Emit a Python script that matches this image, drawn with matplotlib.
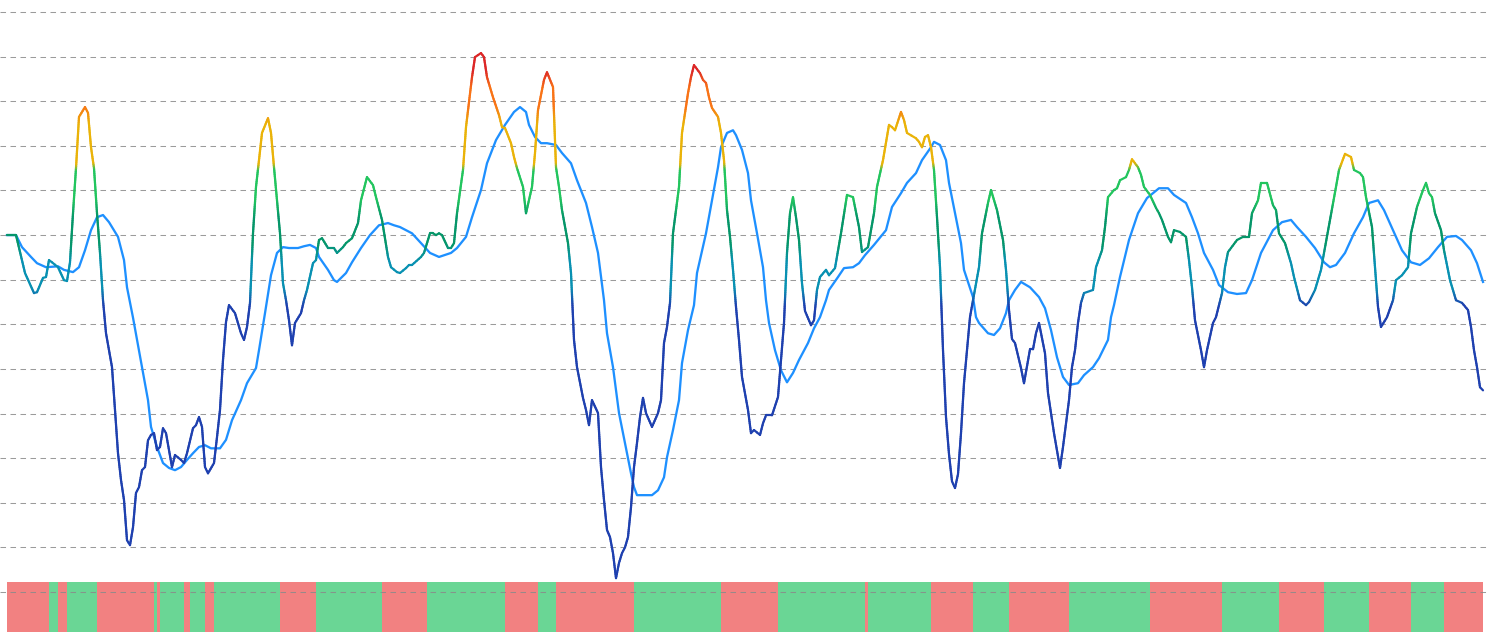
import numpy as np
import matplotlib.pyplot as plt
from matplotlib.collections import LineCollection
from matplotlib.colors import LinearSegmentedColormap, Normalize

# oscillator (colour follows its level)
main_t = [0, 3, 6, 9, 10, 12, 13, 14, 15, 17, 19, 20, 21, 22, 23, 24, 26, 27, 28, 29,
          30, 31, 32, 33, 35, 36, 37, 38, 39, 40, 41, 42, 43, 44, 45, 46, 47, 48, 49, 50,
          51, 52, 53, 54, 55, 56, 58, 59, 60, 62, 63, 64, 65, 66, 67, 69, 70, 71, 72, 73,
          74, 76, 78, 79, 80, 81, 82, 83, 84, 85, 87, 88, 89, 90, 91, 92, 93, 94, 95, 96,
          98, 99, 100, 102, 103, 104, 105, 107, 109, 110, 112, 113, 115, 117, 118, 120, 122, 123, 125, 127,
          128, 130, 131, 133, 134, 135, 138, 139, 141, 142, 143, 144, 145, 147, 148, 149, 150, 152, 153, 155,
          156, 158, 159, 160, 162, 164, 165, 166, 168, 169, 170, 172, 173, 175, 176, 177, 179, 180, 182, 183,
          184, 185, 187, 188, 189, 190, 192, 193, 194, 195, 197, 198, 199, 200, 201, 202, 203, 204, 205, 206,
          207, 208, 209, 210, 211, 212, 213, 215, 217, 218, 219, 220, 221, 222, 224, 225, 227, 228, 229, 231,
          232, 233, 234, 235, 237, 238, 239, 240, 241, 242, 243, 244, 245, 247, 248, 249, 251, 252, 253, 255,
          257, 258, 259, 260, 261, 262, 263, 264, 265, 266, 268, 269, 270, 271, 273, 274, 276, 278, 280, 282,
          284, 285, 287, 289, 290, 292, 294, 295, 296, 298, 299, 300, 303, 304, 305, 306, 307, 308, 309, 310,
          311, 312, 313, 314, 315, 316, 317, 318, 319, 320, 321, 322, 324, 325, 327, 328, 330, 332, 333, 334,
          335, 336, 338, 339, 341, 342, 343, 344, 346, 347, 349, 351, 352, 354, 355, 356, 357, 358, 359, 362,
          363, 365, 366, 367, 369, 370, 371, 373, 374, 375, 377, 378, 379, 381, 383, 384, 385, 387, 388, 389,
          391, 393, 394, 395, 396, 398, 399, 400, 402, 403, 405, 406, 407, 408, 410, 412, 414, 415, 417, 418,
          420, 422, 423, 424, 426, 428, 429, 431, 433, 434, 436, 438, 439, 441, 443, 444, 446, 448, 449, 451,
          452, 453, 455, 456, 457, 458, 460, 462, 463, 465, 467, 468, 470, 472, 473, 474, 475, 476, 478, 479,
          481, 483, 485, 487, 488, 489, 490, 491, 492]
main_v = [0, 0, -8.5, -13.0, -12.8, -9.6, -9.4, -5.6, -6.1, -7.2, -10.1, -10.3, -6.1, 4.9, 15.0, 26.5, 28.7, 27.4, 19.7, 15.0,
          4.9, -4.0, -14.6, -22.0, -29.6, -39.2, -48.9, -54.9, -59.4, -68.4, -69.5, -65.5, -57.8, -56.5, -52.7, -52.0, -46.0, -44.8, -44.4, -48.2,
          -47.5, -43.3, -44.4, -48.2, -52.0, -49.3, -50.4, -51.1, -48.9, -43.3, -42.6, -40.8, -43.0, -52.0, -53.4, -51.1, -45.3, -39.2, -28.0, -19.5,
          -15.7, -17.5, -22.0, -23.5, -20.6, -15.2, 0.4, 10.8, 16.8, 22.9, 26.2, 22.9, 15.2, 7.8, 0.4, -10.8, -14.6, -19.1, -24.7, -19.7,
          -17.5, -14.6, -12.3, -6.3, -5.6, -1.1, -0.7, -2.9, -2.9, -4.0, -2.7, -1.8, -0.7, 2.7, 7.8, 13.0, 11.2, 8.5, 3.4, -4.9,
          -7.2, -8.3, -8.5, -7.4, -6.7, -6.7, -4.9, -4.0, 0.4, 0.4, 0, 0.4, 0, -2.9, -2.9, -1.8, 4.9, 14.6, 24.2, 35.4,
          39.9, 40.8, 39.9, 35.4, 30.9, 26.9, 24.2, 24.0, 20.6, 17.5, 15.0, 10.8, 4.9, 10.8, 18.4, 28.0, 34.8, 36.5, 33.2, 15.2,
          10.8, 5.6, -1.8, -8.5, -23.5, -29.6, -36.5, -39.2, -42.6, -37.0, -39.9, -52.0, -59.4, -66.1, -67.7, -71.3, -76.9, -73.5, -71.3, -70.0,
          -67.7, -61.0, -52.0, -46.6, -40.8, -36.5, -39.9, -43.0, -39.9, -37.0, -24.2, -20.6, -15.2, 0.4, 10.8, 22.9, 31.8, 35.4, 38.1, 36.3,
          34.8, 34.1, 30.9, 28.5, 26.5, 22.9, 16.8, 5.6, -0.4, -7.8, -16.1, -23.5, -31.8, -39.2, -44.4, -43.7, -44.8, -42.2, -40.4, -40.4,
          -36.3, -28.0, -19.7, -4.0, 4.9, 8.5, 4.0, -1.1, -10.8, -17.0, -20.2, -19.1, -12.3, -9.4, -7.8, -9.0, -7.4, 0.4, 9.0, 8.5,
          1.8, -3.8, -2.7, 4.9, 10.8, 16.8, 24.7, 24.2, 23.5, 27.6, 25.8, 22.9, 21.7, 20.9, 19.7, 22.0, 22.4, 19.7, 14.6, 4.0,
          -7.2, -25.8, -40.8, -49.1, -55.2, -56.7, -53.6, -44.4, -33.2, -25.8, -18.4, -14.6, -7.2, 0.4, 7.2, 10.1, 5.6, -1.1, -7.8, -16.8,
          -23.3, -24.2, -29.8, -33.2, -25.6, -25.6, -22.0, -19.7, -26.5, -35.4, -44.4, -52.2, -47.5, -37.0, -29.6, -25.8, -19.7, -15.2, -13.0, -12.3,
          -7.2, -3.4, 1.8, 8.5, 10.1, 10.5, 12.3, 13.0, 14.6, 17.0, 15.2, 13.5, 10.8, 9.0, 6.1, 4.9, 3.4, -0.4, -1.6, 1.1,
          0.7, -0.4, -5.6, -11.7, -19.1, -25.8, -29.6, -25.8, -19.7, -18.4, -13.0, -7.2, -3.8, -2.9, -1.1, -0.4, -0.4, 4.9, 7.8, 11.7,
          11.7, 6.7, 5.6, 0.4, -1.8, -6.3, -9.4, -14.6, -15.7, -15.0, -12.3, -7.8, -4.0, 3.4, 10.8, 14.6, 18.2, 17.5, 14.6, 13.9,
          13.0, 8.5, 1.8, -7.2, -16.1, -20.6, -18.4, -14.6, -10.1, -9.0, -7.2, 0.4, 6.3, 10.1, 11.7, 9.4, 8.5, 4.9, 1.1, -3.4,
          -10.1, -14.6, -15.2, -16.8, -20.6, -25.8, -29.6, -34.1, -34.8]

# smoothed signal line
signal_t = [0, 3, 5, 8, 10, 13, 17, 19, 22, 24, 26, 28, 30, 32, 34, 37, 39, 40, 42, 45,
            47, 48, 50, 52, 54, 56, 58, 60, 62, 64, 66, 68, 71, 73, 75, 78, 80, 83, 84, 86,
            88, 90, 92, 94, 97, 99, 101, 103, 104, 107, 109, 110, 113, 115, 118, 121, 124, 127, 129, 131,
            135, 138, 141, 144, 148, 150, 153, 155, 158, 160, 163, 166, 169, 171, 173, 174, 176, 178, 180, 183,
            185, 188, 190, 193, 195, 197, 199, 200, 202, 204, 206, 208, 209, 210, 213, 215, 217, 219, 220, 222,
            224, 225, 227, 229, 230, 233, 235, 237, 238, 240, 242, 243, 245, 247, 248, 250, 252, 253, 254, 256,
            258, 260, 262, 264, 267, 269, 271, 273, 274, 277, 279, 282, 284, 286, 289, 293, 295, 298, 300, 303,
            305, 308, 309, 311, 313, 314, 316, 318, 319, 322, 323, 324, 327, 329, 331, 333, 334, 336, 338, 341,
            344, 346, 348, 350, 352, 354, 357, 359, 362, 364, 367, 368, 369, 371, 374, 377, 380, 384, 387, 389,
            393, 395, 397, 399, 402, 404, 407, 410, 413, 415, 418, 422, 425, 428, 430, 433, 436, 439, 441, 443,
            446, 449, 452, 454, 457, 459, 462, 465, 468, 471, 474, 477, 480, 483, 485, 488, 490, 492]
signal_v = [0, 0, -2.7, -4.9, -6.3, -7.2, -7.0, -7.8, -8.3, -7.2, -3.4, 1.1, 4.0, 4.5, 2.9, -0.4, -5.6, -11.7, -18.5, -29.6,
            -37.0, -43.0, -47.5, -51.1, -52.2, -52.7, -52.0, -50.4, -48.9, -47.5, -47.1, -47.8, -47.8, -45.9, -41.5, -37.0, -33.2, -29.8, -25.8, -17.5,
            -9.0, -4.0, -2.7, -2.9, -2.9, -2.5, -2.2, -2.9, -4.9, -7.8, -10.1, -10.5, -8.5, -6.1, -2.9, 0, 2.2, 2.7, 2.2, 1.8,
            0.4, -1.8, -4.0, -4.9, -4.0, -2.9, -0.4, 4.0, 10.1, 16.1, 21.3, 24.7, 27.6, 28.7, 27.6, 24.7, 22.0, 20.6, 20.6, 20.2,
            18.4, 16.1, 12.3, 7.2, 1.8, -4.0, -14.6, -22.0, -29.6, -39.9, -46.6, -53.4, -56.5, -58.3, -58.3, -58.3, -57.2, -54.3, -49.8, -43.7,
            -37.0, -28.7, -21.3, -15.7, -8.5, 0.4, 7.8, 15.2, 19.7, 22.9, 23.5, 22.4, 19.1, 13.9, 7.8, 0.4, -7.2, -14.6, -19.7, -25.8,
            -30.3, -33.0, -30.9, -28.0, -24.2, -20.9, -18.4, -14.6, -12.3, -9.4, -7.4, -7.2, -6.3, -4.5, -2.2, 1.1, 6.3, 9.4, 11.7, 13.9,
            16.8, 19.7, 20.9, 20.2, 16.8, 11.7, 4.9, -1.8, -7.8, -13.9, -18.4, -19.7, -22.0, -22.4, -20.9, -17.5, -14.6, -12.3, -10.5, -11.7,
            -13.9, -16.4, -21.3, -27.4, -31.8, -33.6, -33.2, -31.4, -29.6, -27.6, -23.5, -18.4, -15.7, -9.4, -1.1, 4.9, 8.3, 10.5, 10.5, 9.0,
            7.2, 4.0, 0.4, -4.0, -7.8, -11.2, -12.8, -13.2, -13.0, -10.1, -4.0, 1.1, 2.9, 3.4, 1.8, -0.4, -2.9, -6.1, -7.2, -6.7,
            -4.0, 0.4, 4.0, 7.2, 7.8, 5.6, 1.1, -3.4, -6.1, -6.7, -5.2, -2.7, -0.4, -0.2, -1.1, -3.4, -6.3, -10.5]

# bottom strip: bar index where the state flips (starts bearish, then alternates)
flip_t = [0, 14, 17, 20, 30, 49, 50, 51, 59, 61, 66, 69, 91, 103, 125, 140, 166, 177,
          183, 209, 238, 257, 286, 287, 308, 322, 334, 354, 381, 405, 424, 439, 454, 468, 479]
n_bars = 492
grid_levels = list(range(-80, 51, 10))

# level colours of the oscillator
cmap_nodes = [(-16, '#1E40AF'), (-12, '#0891B2'), (-6, '#0891B2'), (-2, '#059669'),
              (4, '#059669'), (8, '#22C55E'), (14.5, '#22C55E'), (16, '#EAB308'),
              (25, '#EAB308'), (29, '#F97316'), (33, '#F97316'), (37, '#DC2626')]
lo, hi = cmap_nodes[0][0], cmap_nodes[-1][0]
cmap = LinearSegmentedColormap.from_list(
    'osc', [((v - lo) / (hi - lo), c) for v, c in cmap_nodes])
norm = Normalize(lo, hi)


def gradient_line(ax, x, y, lw):
    # split each straight segment into short pieces only to shade it by level
    px, py = [x[0]], [y[0]]
    for i in range(len(x) - 1):
        k = max(1, int(abs(y[i + 1] - y[i]) / 0.4))
        px.extend(np.linspace(x[i], x[i + 1], k + 1)[1:])
        py.extend(np.linspace(y[i], y[i + 1], k + 1)[1:])
    pts = np.column_stack([px, py])
    segs = np.stack([pts[:-1], pts[1:]], axis=1)
    mid = (pts[:-1, 1] + pts[1:, 1]) / 2
    lc = LineCollection(segs, colors=cmap(norm(mid)), linewidths=lw,
                        capstyle='round', joinstyle='round', zorder=5)
    ax.add_collection(lc)


fig = plt.figure(figsize=(14.9, 6.33), dpi=100)
ax = fig.add_axes([0, 0, 1487 / 1490, 1])
ax.set_xlim(-7 / 3, 1480 / 3)
ax.set_ylim(-89.2, 52.7)
ax.axis('off')

for g in grid_levels:
    ax.axhline(g, color='#8a8a8a', lw=0.75, ls=(0, (5.3, 4.3)), alpha=0.85, zorder=3)

# bar strip
state = np.zeros(n_bars, dtype=int)
bounds = flip_t + [n_bars]
for i in range(len(flip_t)):
    state[bounds[i]:bounds[i + 1]] = i % 2
bar_colors = np.where(state == 1, '#6AD695', '#F28181')
ax.bar(np.arange(n_bars), 11.2, bottom=-89.0, width=1.02, align='edge',
       color=bar_colors, linewidth=0, zorder=2)

ax.plot(signal_t, signal_v, color='#1E90FF', lw=1.65, zorder=4,
        solid_joinstyle='round')
gradient_line(ax, main_t, main_v, 1.6)

fig.savefig('out.png', dpi=100)
